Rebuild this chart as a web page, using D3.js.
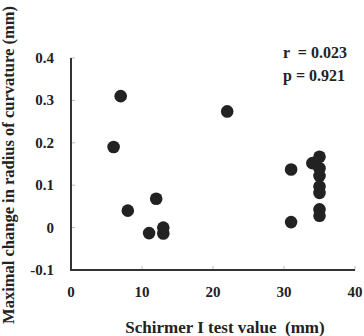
<!DOCTYPE html>
<html><head><meta charset="utf-8">
<script src="https://cdn.jsdelivr.net/npm/d3@7"></script>
<style>html,body{margin:0;padding:0;background:#fff;}svg{display:block;}text{white-space:pre;}</style>
</head><body>
<svg id="c" width="364" height="336"></svg>
<script>
const schirmer = [7, 6, 8, 12, 11, 13, 13, 22, 31, 31, 34, 35, 35, 35, 35, 35, 35, 35];
const curvature = [0.31, 0.19, 0.04, 0.068, -0.013, 0.0, -0.014, 0.274, 0.137, 0.013, 0.152, 0.167, 0.14, 0.122, 0.097, 0.082, 0.043, 0.028];
const xTicks = [0, 10, 20, 30, 40];
const yTicks = [-0.1, 0, 0.1, 0.2, 0.3, 0.4];
const yTickLabels = ["-0.1", "0", "0.1", "0.2", "0.3", "0.4"];
const xTitle = "Schirmer I test value  (mm)";
const yTitle = "Maximal change in radius of curvature (mm)";
const stats = ["r  = 0.023", "p = 0.921"];

const svg = d3.select("#c");
const font = "'Liberation Serif','Times New Roman',serif";
const x = d3.scaleLinear().domain([0, 40]).range([71, 355]);
const y = d3.scaleLinear().domain([-0.1, 0.4]).range([270, 58]);

// inward tick marks
svg.append("g").selectAll("line").data(xTicks.slice(1)).join("line")
  .attr("x1", d => x(d)).attr("x2", d => x(d))
  .attr("y1", y(-0.1)).attr("y2", y(-0.1) - 4)
  .attr("stroke", "#bbb").attr("stroke-width", 1);
svg.append("g").selectAll("line").data(yTicks.slice(1)).join("line")
  .attr("x1", x(0)).attr("x2", x(0) + 4)
  .attr("y1", d => y(d)).attr("y2", d => y(d))
  .attr("stroke", "#bbb").attr("stroke-width", 1);

// axes lines
svg.append("path")
  .attr("d", `M${x(0)},${y(0.4)}V${y(-0.1)}H${x(40)}`)
  .attr("fill", "none").attr("stroke", "#333").attr("stroke-width", 2);

// tick labels
svg.append("g").selectAll("text").data(xTicks).join("text")
  .attr("x", d => x(d)).attr("y", 297)
  .attr("text-anchor", "middle")
  .attr("font-family", font).attr("font-weight", "bold").attr("font-size", 15)
  .attr("fill", "#222").text(d => d);
svg.append("g").selectAll("text").data(yTicks).join("text")
  .attr("x", 54).attr("y", d => y(d) + 5)
  .attr("text-anchor", "end")
  .attr("font-family", font).attr("font-weight", "bold").attr("font-size", 15)
  .attr("fill", "#222").text((d, i) => yTickLabels[i]);

// titles
svg.append("text").attr("x", 225).attr("y", 333)
  .attr("text-anchor", "middle")
  .attr("font-family", font).attr("font-weight", "bold").attr("font-size", 17)
  .attr("fill", "#222").text(xTitle);
svg.append("text").attr("transform", "translate(14,165) rotate(-90)")
  .attr("text-anchor", "middle")
  .attr("font-family", font).attr("font-weight", "bold").attr("font-size", 16.5)
  .attr("fill", "#222").text(yTitle);

// stats
svg.append("g").selectAll("text").data(stats).join("text")
  .attr("x", 283).attr("y", (d, i) => 58 + i * 23)
  .attr("font-family", font).attr("font-weight", "bold").attr("font-size", 16)
  .attr("fill", "#222").text(d => d);

// points
svg.append("g").selectAll("circle").data(schirmer).join("circle")
  .attr("cx", d => x(d)).attr("cy", (d, i) => y(curvature[i]))
  .attr("r", 6.3).attr("fill", "#222");
</script>
</body></html>
